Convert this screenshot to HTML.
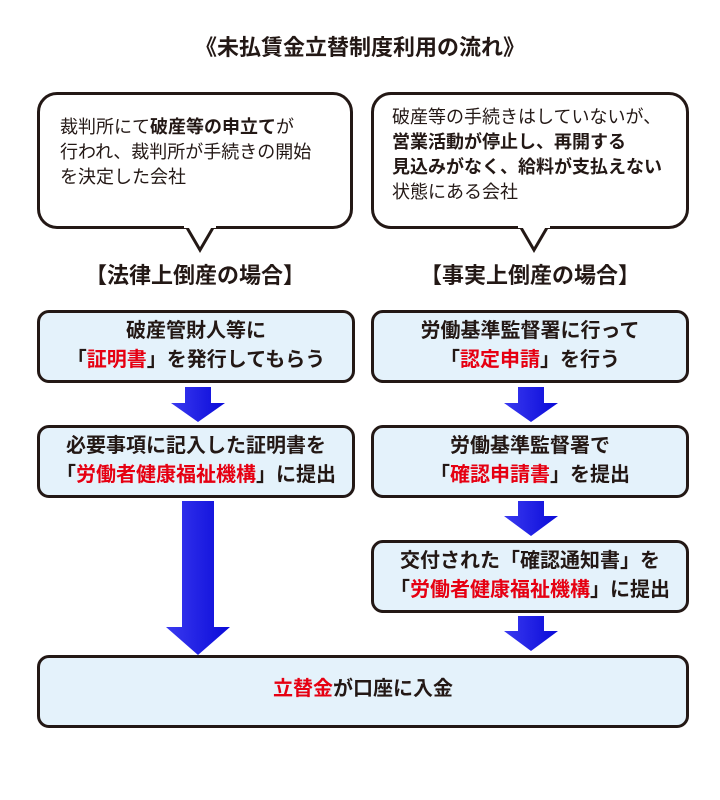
<!DOCTYPE html>
<html><head><meta charset="utf-8"><style>
body{margin:0;width:720px;height:800px;background:#fff;position:relative;font-family:"Liberation Sans","Noto Sans CJK JP",sans-serif;color:#231815;overflow:hidden}
.a{position:absolute}
.t{left:0;width:720px;top:30px;text-align:center;font-size:22px;font-weight:bold}
.bub{border:3px solid #231815;border-radius:20px;background:#fff;box-sizing:border-box;font-size:18px;line-height:25px}
.h{font-size:22px;font-weight:bold;text-align:center}
.box{border:3px solid #231815;border-radius:12px;background:#e4f2fb;box-sizing:border-box;font-size:20px;font-weight:bold;text-align:center;line-height:29px;padding-top:4px;white-space:nowrap}
.r{color:#e60012}
</style></head><body>
<div class="a t">《未払賃金立替制度利用の流れ》</div>

<div class="a bub" style="left:37px;top:92px;width:316px;height:137px;padding:20px 0 0 20px">裁判所にて<b>破産等の申立て</b>が<br>行われ、裁判所が手続きの開始<br>を決定した会社</div>
<div class="a bub" style="left:371px;top:92px;width:318px;height:137px;padding:10px 0 0 18px">破産等の手続きはしていないが、<br><b>営業活動が停止し、再開する<br>見込みがなく、給料が支払えない</b><br>状態にある会社</div>
<svg class="a" style="left:0;top:0" width="720" height="800">
<path d="M186 226 L200 250 L214 226" fill="#fff" stroke="#231815" stroke-width="3"/>
<path d="M520 226 L534 250 L548 226" fill="#fff" stroke="#231815" stroke-width="3"/>
<rect x="184" y="225" width="32" height="3" fill="#fff"/>
<rect x="518" y="225" width="32" height="3" fill="#fff"/>
<defs><linearGradient id="g" x1="0" x2="1"><stop offset="0" stop-color="#3a3af0"/><stop offset="1" stop-color="#0a0ad8"/></linearGradient></defs>
<g fill="url(#g)">
<path d="M185 387 H211 V403 H225 L198 422 L171 403 H185Z"/>
<path d="M182 501 H214 V627 H230 L198 655 L166 627 H182Z"/>
<path d="M518 387 H544 V403 H558 L531 422 L504 403 H518Z"/>
<path d="M518 501 H544 V516 H558 L531 536 L504 516 H518Z"/>
<path d="M518 616 H544 V631 H558 L531 651 L504 631 H518Z"/>
</g>
</svg>
<div class="a h" style="left:37px;width:316px;top:258px">【法律上倒産の場合】</div>
<div class="a h" style="left:371px;width:318px;top:258px">【事実上倒産の場合】</div>

<div class="a box" style="left:37px;top:310px;width:318px;height:73px">破産管財人等に<br>「<span class="r">証明書</span>」を発行してもらう</div>
<div class="a box" style="left:37px;top:425px;width:318px;height:73px">必要事項に記入した証明書を<br>「<span class="r">労働者健康福祉機構</span>」に提出</div>
<div class="a box" style="left:371px;top:310px;width:318px;height:73px">労働基準監督署に行って<br>「<span class="r">認定申請</span>」を行う</div>
<div class="a box" style="left:371px;top:425px;width:318px;height:73px">労働基準監督署で<br>「<span class="r">確認申請書</span>」を提出</div>
<div class="a box" style="left:371px;top:540px;width:318px;height:73px">交付された「確認通知書」を<br>「<span class="r">労働者健康福祉機構</span>」に提出</div>
<div class="a box" style="left:37px;top:655px;width:652px;height:73px;padding-top:17px"><span class="r">立替金</span>が口座に入金</div>
</body></html>
